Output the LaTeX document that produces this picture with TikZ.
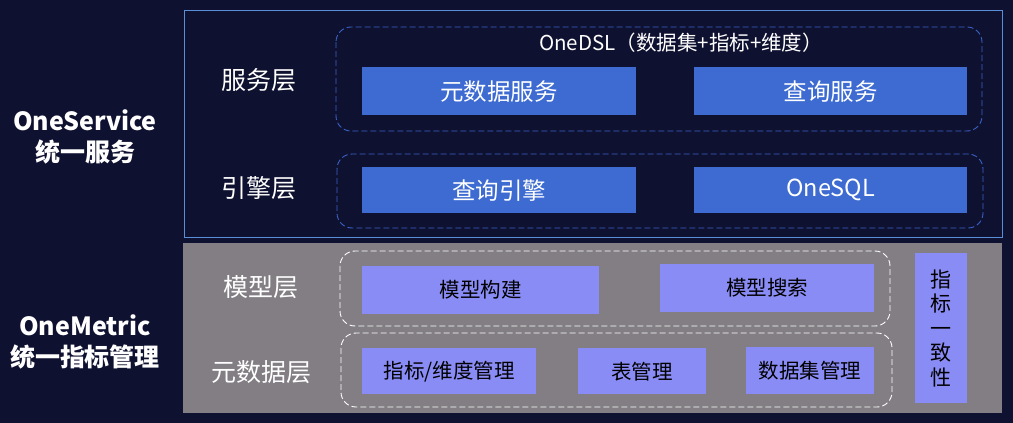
\documentclass[tikz,border=0pt]{standalone}
\usepackage{fontspec}
\setmainfont{Noto Sans CJK SC}
\usetikzlibrary{positioning}
\definecolor{bg}{HTML}{0F1130}
\definecolor{frameblue}{HTML}{5A8FD8}
\definecolor{boxblue}{HTML}{3D6BD1}
\definecolor{dashblue}{HTML}{3A63C8}
\definecolor{graypanel}{HTML}{827E84}
\definecolor{purplebox}{HTML}{8A8CF5}
\tikzset{
  bluebox/.style={fill=boxblue, text=white, font=\fontsize{23.5}{26}\selectfont, inner sep=0pt, anchor=north west},
  purpbox/.style={fill=purplebox, text=black, font=\fontsize{20.5}{24}\selectfont, inner sep=0pt, anchor=north west},
  layerlabel/.style={text=white, font=\fontsize{25}{28}\selectfont},
  sidelabel/.style={text=white, font=\bfseries\fontsize{25}{31}\selectfont, align=center},
  bluedash/.style={draw=dashblue, line width=0.9pt, dash pattern=on 6pt off 3pt, rounded corners=15pt},
  whitedash/.style={draw=white, line width=0.9pt, dash pattern=on 6pt off 3pt, rounded corners=15pt},
}
\begin{document}
\begin{tikzpicture}[x=1pt,y=-1pt]
\path[fill=bg,use as bounding box] (0,0) rectangle (1013,423);
% top panel
\draw[frameblue, line width=1pt] (184,10) rectangle (1002,237);
\draw[bluedash] (336,27) rectangle (982,131);
\draw[bluedash] (337,154) rectangle (983,228);
\node[text=white, font=\fontsize{20.5}{24}\selectfont] (dsl) at (681,43) {OneDSL（数据集+指标+维度）};
\node[bluebox, minimum width=274pt, minimum height=48pt] (meta) at (362,67) {元数据服务};
\node[bluebox, minimum width=273pt, minimum height=48pt] (query) at (694,67) {查询服务};
\node[bluebox, minimum width=274pt, minimum height=46pt] (engine) at (362,167) {查询引擎};
\node[bluebox, minimum width=273pt, minimum height=46pt] (onesql) at (694,167) {OneSQL};
\node[layerlabel] (svc) at (259,80) {服务层};
\node[layerlabel] (eng) at (259,188) {引擎层};
% bottom panel
\fill[graypanel] (183,243) rectangle (1002,413);
\draw[whitedash] (340,251) rectangle (890,326);
\draw[whitedash] (341,333) rectangle (892,407);
\node[purpbox, minimum width=237pt, minimum height=48pt] (build) at (362,266) {模型构建};
\node[purpbox, minimum width=214pt, minimum height=48pt] (search) at (660,264) {模型搜索};
\node[purpbox, minimum width=174pt, minimum height=46pt] (dim) at (362,348) {指标/维度管理};
\node[purpbox, minimum width=128pt, minimum height=46pt] (table) at (578,348) {表管理};
\node[purpbox, minimum width=128pt, minimum height=47pt] (dataset) at (746,347) {数据集管理};
\node[purpbox, minimum width=52pt, minimum height=150pt, font=\fontsize{21}{24.5}\selectfont, align=center] (consist) at (915,253) {指\\标\\一\\致\\性};
\node[layerlabel] (model) at (261,287) {模型层};
\node[layerlabel] (metal) at (261,372) {元数据层};
% side labels
\node[sidelabel] (os) at (85,137) {OneService\\统一服务};
\node[sidelabel] (om) at (85,342) {OneMetric\\统一指标管理};
\end{tikzpicture}
\end{document}
